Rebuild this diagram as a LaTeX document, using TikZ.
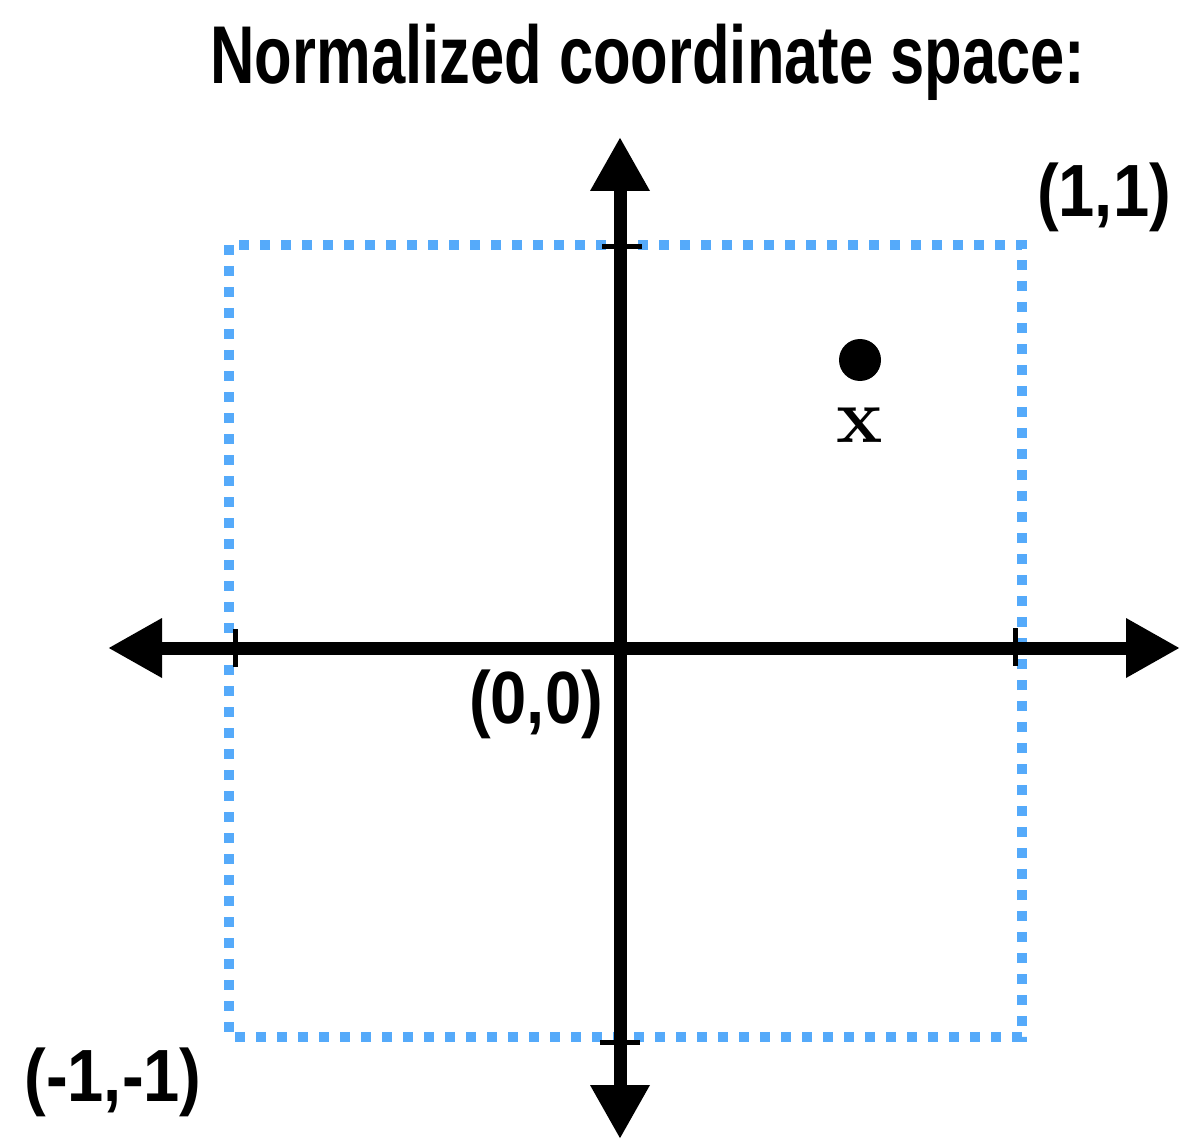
\documentclass[tikz,border=0pt]{standalone}
\usepackage{fontspec}
\newfontfamily\titlefont{Liberation Sans}[FakeStretch=0.75]
\newfontfamily\condfont{Liberation Sans}[FakeStretch=0.88]
\usetikzlibrary{arrows.meta}
\definecolor{boxblue}{RGB}{85,170,250}

\begin{document}
\begin{tikzpicture}[x=1pt, y=-1pt,
    axis/.style={line width=13pt, {Triangle[length=54pt,width=56pt]}-{Triangle[length=54pt,width=56pt]}},
    tickmark/.style={line width=5pt},
    lbl/.style={font=\condfont\bfseries\fontsize{74}{84}\selectfont, inner sep=0pt}]
  \useasboundingbox (0,0) rectangle (1180,1139);

  \node[font=\titlefont\bfseries\fontsize{82}{92}\selectfont, inner sep=0pt, anchor=base] (title) at (648,84) {Normalized coordinate space:};

  % unit square
  \draw[boxblue, line width=10pt, dash pattern=on 10pt off 11pt] (229,245) rectangle (1022,1037);

  % axes
  \coordinate (o) at (620,648);
  \coordinate (left) at (108,648);
  \coordinate (right) at (1180,648);
  \coordinate (top) at (620,137);
  \coordinate (bottom) at (620,1139);
  \draw[tickmark] (602,247) -- (642,247);
  \draw[tickmark] (600,1042) -- (640,1042);
  \draw[tickmark] (235,629) -- (235,667);
  \draw[tickmark] (1015,628) -- (1015,666);
  \draw[axis] (left) -- (right);
  \draw[axis] (bottom) -- (top);

  % point x
  \node[circle, fill, inner sep=0pt, minimum size=42pt] (pt) at (860,360) {};
  \node[inner sep=0pt, font=\bfseries\fontsize{78}{80}\selectfont] (ptlbl) at (860,425) {x};

  \node[lbl] (one) at (1104,197) {(1,1)};
  \node[lbl] (zero) at (536,704) {(0,0)};
  \node[lbl] (minus) at (113,1082) {(-1,-1)};
\end{tikzpicture}
\end{document}
